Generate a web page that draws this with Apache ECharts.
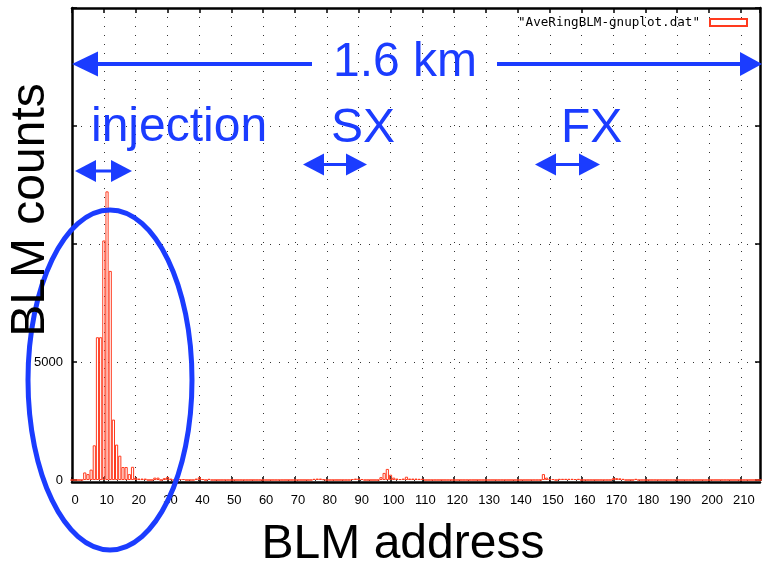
<!DOCTYPE html>
<html><head><meta charset="utf-8">
<script src="https://cdn.jsdelivr.net/npm/echarts@6/dist/echarts.min.js"></script>
<style>html,body{margin:0;padding:0;background:#fff}#c{width:762px;height:568px}</style>
</head><body><div id="c"></div>
<script>
// ---- data ----
const seriesName = '"AveRingBLM-gnuplot.dat"';
const addressMin = 0;
const addressMax = 216;
const hitAddresses = [4,5,6,7,8,9,10,11,12,13,14,15,16,17,18,19,20,21,22,23,26,27,29,30,31,34,35,39,40,41,43,76,77,78,79,88,89,90,91,97,98,99,100,101,102,103,104,105,106,107,108,109,110,148,149,150,151,153,154,155,156,157,158,159,170,171,172,173,177];
const hitCounts    = [320,250,440,1470,6050,6050,10150,12230,8860,2560,1500,1030,550,550,250,560,100,60,60,60,100,100,80,130,60,40,40,60,120,40,50,50,60,60,30,40,60,60,40,120,300,470,225,100,60,40,60,140,60,60,60,50,50,250,100,40,40,50,50,50,50,50,40,50,80,80,70,50,50];
const yTickLabels = ['0', '5000'];

const countMap = {};
hitAddresses.forEach((a, i) => { countMap[a] = hitCounts[i]; });
const barData = [];
for (let a = addressMin; a <= addressMax; a++) barData.push([a, countMap[a] || 0]);

const BLUE = '#1b3cff';
const RED = '#ff3a1e';
const FONT = '"Liberation Sans", Arial, Helvetica, sans-serif';

function head(tipX, y, dir, len, half) {
  return { type: 'polygon', z: 100, silent: true,
    shape: { points: [[tipX, y], [tipX + dir * len, y - half], [tipX + dir * len, y + half]] },
    style: { fill: BLUE } };
}
function shaft(x1, x2, y, w) {
  return { type: 'line', z: 100, silent: true,
    shape: { x1: x1, y1: y, x2: x2, y2: y }, style: { stroke: BLUE, lineWidth: w } };
}
function dblArrow(x1, x2, y) {
  return [shaft(x1 + 10, x2 - 10, y, 3), head(x1, y, 1, 21, 11), head(x2, y, -1, 21, 11)];
}
function label(text, x, y, opts) {
  return Object.assign({ type: 'text', z: 101, silent: true, x: x, y: y,
    style: Object.assign({ text: text, font: '48px ' + FONT, fill: BLUE, align: 'left', verticalAlign: 'middle' }, opts || {}) });
}

const graphics = [
  shaft(95, 312, 64, 4), shaft(497, 745, 64, 4),
  head(72, 64, 1, 26, 12.5), head(762, 64, -1, 22, 12),
  label('1.6 km', 405, 63, { align: 'center' }),
  label('injection', 91, 128),
  label('SX', 331, 129),
  label('FX', 561, 129),
  ...dblArrow(75, 132, 171),
  ...dblArrow(303, 367, 164.5),
  ...dblArrow(535, 600, 164.5),
  { type: 'ellipse', z: 100, silent: true, shape: { cx: 110, cy: 380, rx: 82, ry: 170 },
    style: { fill: 'none', stroke: BLUE, lineWidth: 5 } },
  { type: 'text', z: 101, silent: true, x: 31, y: 210, rotation: Math.PI / 2,
    style: { text: 'BLM counts', font: '48px ' + FONT, fill: '#000', align: 'center', verticalAlign: 'middle' } },
  { type: 'text', z: 101, silent: true, x: 403, y: 545,
    style: { text: 'BLM address', font: '48px ' + FONT, fill: '#000', align: 'center', verticalAlign: 'middle' } }
];

const dotted = { show: true, lineStyle: { color: '#333', width: 1, type: [1, 8] } };
const tickStyle = { show: true, inside: true, length: 5, lineStyle: { color: '#000', width: 1.5 } };
const frame = { show: true, onZero: false, lineStyle: { color: '#000', width: 2.5 } };

const chart = echarts.init(document.getElementById('c'), null, { renderer: 'canvas' });
chart.setOption({
  animation: false,
  backgroundColor: '#fff',
  grid: { left: 72, right: 2, top: 8, bottom: 88, containLabel: false },
  legend: {
    data: [seriesName], right: 14, top: 16, align: 'right', icon: 'rect',
    itemWidth: 37, itemHeight: 7, padding: 0,
    textStyle: { fontFamily: '"DejaVu Sans Mono", monospace', fontSize: 12.6, color: '#000', padding: [0, 5, 0, 0] }
  },
  xAxis: [
    { type: 'value', min: addressMin, max: addressMax, interval: 10, position: 'bottom', offset: 2,
      axisLine: frame, axisTick: tickStyle, splitLine: dotted,
      axisLabel: { color: '#000', fontSize: 13, fontFamily: FONT, margin: 12, showMaxLabel: false, padding: [0, 0, 0, 6] } },
    { type: 'value', min: addressMin, max: addressMax, interval: 10, position: 'top',
      axisLine: frame, axisTick: tickStyle, splitLine: { show: false }, axisLabel: { show: false } }
  ],
  yAxis: [
    { type: 'value', min: 0, max: 20000, interval: 5000, position: 'left',
      axisLine: frame, axisTick: tickStyle, splitLine: dotted,
      axisLabel: { color: '#000', fontSize: 13, fontFamily: FONT, margin: 9,
        formatter: v => (yTickLabels.indexOf(String(v)) >= 0 ? String(v) : '') } },
    { type: 'value', min: 0, max: 20000, interval: 5000, position: 'right',
      axisLine: frame, axisTick: tickStyle, splitLine: { show: false }, axisLabel: { show: false } }
  ],
  series: [{
    name: seriesName, type: 'bar', xAxisIndex: 0, yAxisIndex: 0,
    data: barData, barWidth: '100%',
    itemStyle: { color: 'rgba(255,255,255,0)', borderColor: RED, borderWidth: 1 },
    emphasis: { disabled: true }
  }],
  graphic: graphics
});
</script></body></html>
